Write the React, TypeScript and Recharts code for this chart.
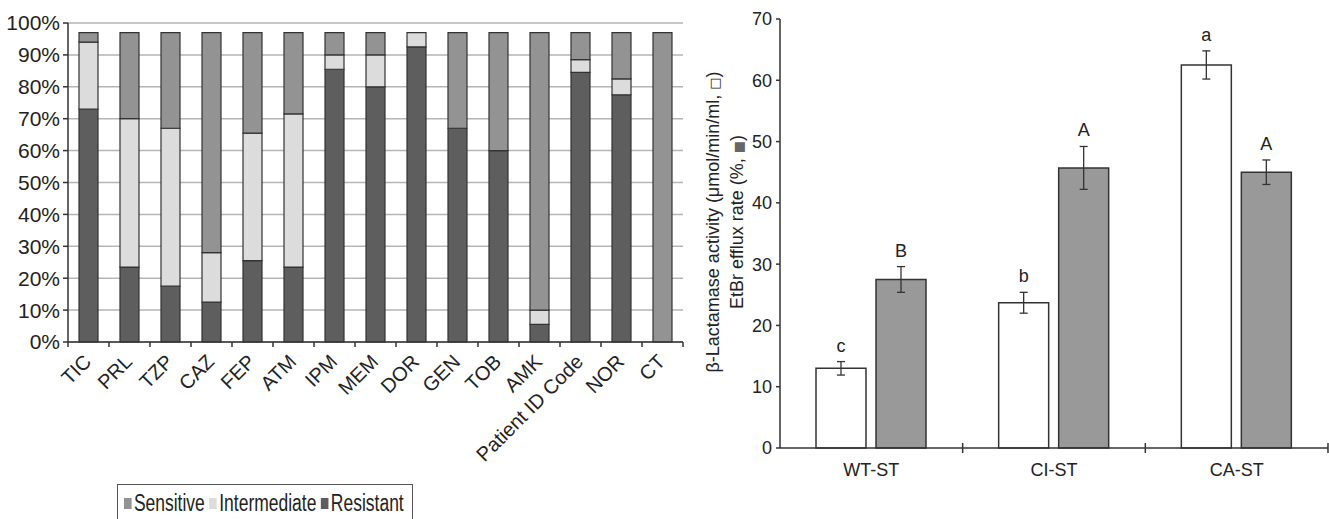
import { BarChart, Bar, XAxis, YAxis, CartesianGrid, Legend, ErrorBar, LabelList } from 'recharts'

// left panel: susceptibility profile per antibiotic (% of isolates)
const antibiotics = ['TIC', 'PRL', 'TZP', 'CAZ', 'FEP', 'ATM', 'IPM', 'MEM', 'DOR', 'GEN', 'TOB', 'AMK', 'Patient ID Code', 'NOR', 'CT']
const resistant = [73, 23.5, 17.5, 12.5, 25.5, 23.5, 85.5, 80, 92.5, 67, 60, 5.5, 84.5, 77.5, 0]
const intermediate = [21, 46.5, 49.5, 15.5, 40, 48, 4.5, 10, 4.5, 0, 0, 4.5, 4, 5, 0]
const sensitive = [3, 27, 30, 69, 31.5, 25.5, 7, 7, 0, 30, 37, 87, 8.5, 14.5, 97]
const percentTicks = [0, 10, 20, 30, 40, 50, 60, 70, 80, 90, 100]

// right panel: beta-lactamase activity and EtBr efflux per strain
const strains = ['WT-ST', 'CI-ST', 'CA-ST']
const lactamase = [13.0, 23.7, 62.5]
const lactamaseErr = [1.1, 1.7, 2.3]
const lactamaseLetters = ['c', 'b', 'a']
const efflux = [27.5, 45.7, 45.0]
const effluxErr = [2.1, 3.5, 2.0]
const effluxLetters = ['B', 'A', 'A']
const activityTicks = [0, 10, 20, 30, 40, 50, 60, 70]

const FONT = '"Liberation Sans", Arial, Helvetica, sans-serif'
const SYMBOL_FONT = '"DejaVu Sans", sans-serif'
const INK = '#222'
const SENS = '#939393'
const INTER = '#dcdcdc'
const RES = '#5e5e5e'

const LEFT_W = 700
const LEFT_MARGIN = { top: 23, right: 17, left: 0, bottom: 0 }
const LEFT_Y_W = 68

const resistanceData = antibiotics.map((name, i) => ({
  name,
  resistant: resistant[i],
  intermediate: intermediate[i],
  sensitive: sensitive[i],
}))

const activityData = strains.map((strain, i) => ({
  strain,
  lactamase: lactamase[i],
  lactamaseErr: lactamaseErr[i],
  efflux: efflux[i],
  effluxErr: effluxErr[i],
}))

const legendItems = [
  { label: 'Sensitive', color: SENS },
  { label: 'Intermediate', color: INTER },
  { label: 'Resistant', color: RES },
]

function AntibioticTick(props: any) {
  const { x, y, payload, index } = props
  const fallback = (LEFT_W - LEFT_MARGIN.right - LEFT_Y_W) / antibiotics.length / 2
  const half = payload?.offset || fallback
  const tx = x - 1
  const ty = y + 16
  return (
    <g>
      <line x1={x + half} y1={y} x2={x + half} y2={y + 5} stroke="#333" strokeWidth={1.5} />
      {index === 0 && <line x1={x - half} y1={y} x2={x - half} y2={y + 5} stroke="#333" strokeWidth={1.5} />}
      <text
        x={tx}
        y={ty}
        dy="0.35em"
        textAnchor="end"
        transform={`rotate(-45, ${tx}, ${ty})`}
        fontSize={20}
        fill={INK}
        fontFamily={FONT}
      >
        {payload.value}
      </text>
    </g>
  )
}

// the printed legend uses a condensed face, so squeeze a larger font horizontally
function ResistanceLegend() {
  return (
    <div
      style={{
        boxSizing: 'border-box',
        width: 296,
        height: 42,
        border: '1.5px solid #555',
        background: '#fff',
        overflow: 'hidden',
        whiteSpace: 'nowrap',
        fontFamily: FONT,
        fontSize: 23,
        lineHeight: '26px',
        color: INK,
        padding: '5px 0 0 6px',
        textAlign: 'left',
      }}
    >
      <div style={{ display: 'inline-block', transform: 'scaleX(0.76)', transformOrigin: 'left center' }}>
        {legendItems.map((it) => (
          <span key={it.label} style={{ marginRight: 6 }}>
            <span
              style={{
                display: 'inline-block',
                width: 10,
                height: 11,
                background: it.color,
                marginRight: 3,
                verticalAlign: 'middle',
                position: 'relative',
                top: -1,
              }}
            />
            {it.label}
          </span>
        ))}
      </div>
    </div>
  )
}

function StrainTick(props: any) {
  const { x, y, payload } = props
  const half = payload?.offset || 91.3
  return (
    <g>
      <line x1={x + half} y1={y - 5} x2={x + half} y2={y + 5} stroke="#333" strokeWidth={1.5} />
      <text x={x} y={y + 22} dy="0.35em" textAnchor="middle" fontSize={18} fill={INK} fontFamily={FONT}>
        {payload.value}
      </text>
    </g>
  )
}

function ActivityAxisLabel(props: any) {
  const vb = props.viewBox ?? { x: 0 }
  const cy = 222
  const x1 = vb.x + 13
  const x2 = vb.x + 37
  return (
    <g fontFamily={FONT} fontSize={18} fill={INK}>
      <text x={x1} y={cy} dy="0.35em" textAnchor="middle" transform={`rotate(-90, ${x1}, ${cy})`}>
        β-Lactamase activity (μmol/min/ml, <tspan fontFamily={SYMBOL_FONT} fontSize={13}>□</tspan>)
      </text>
      <text x={x2} y={cy} dy="0.35em" textAnchor="middle" transform={`rotate(-90, ${x2}, ${cy})`}>
        EtBr efflux rate (%, <tspan fontFamily={SYMBOL_FONT} fontSize={13} fill="#666">■</tspan>)
      </text>
    </g>
  )
}

const letterLabel = (letters: string[], values: number[], errs: number[]) => (p: any) => {
  const vb = p.viewBox ?? p
  const x = vb.x ?? p.x
  const y = vb.y ?? p.y
  const width = vb.width ?? p.width
  const height = vb.height ?? p.height
  const i = typeof p.index === 'number' ? p.index : values.indexOf(p.value)
  if (i < 0 || i >= values.length) return null
  const top = Math.min(y, y + height)
  const ppu = Math.abs(height) / values[i]
  const errTop = top - errs[i] * ppu
  return (
    <text x={x + width / 2} y={errTop - 10} textAnchor="middle" fontSize={18} fill={INK} fontFamily={FONT}>
      {letters[i]}
    </text>
  )
}

export default function App() {
  return (
    <div style={{ position: 'absolute', left: 0, top: 0, width: 1329, height: 519, overflow: 'hidden', background: '#fff' }}>
      <div style={{ position: 'absolute', left: 0, top: 0 }}>
        <BarChart width={LEFT_W} height={519} data={resistanceData} margin={LEFT_MARGIN} barSize={19}>
          <CartesianGrid vertical={false} stroke="#b5b5b5" strokeWidth={1.5} />
          <XAxis
            dataKey="name"
            interval={0}
            height={177}
            tickSize={0}
            tickMargin={0}
            tickLine={false}
            tick={<AntibioticTick />}
            axisLine={{ stroke: '#333', strokeWidth: 1.5 }}
          />
          <YAxis
            width={LEFT_Y_W}
            domain={[0, 100]}
            ticks={percentTicks}
            tickFormatter={(v: number) => `${v}%`}
            tickSize={5}
            tickMargin={3}
            tickLine={{ stroke: '#333', strokeWidth: 1.5 }}
            axisLine={{ stroke: '#333', strokeWidth: 1.5 }}
            tick={{ fill: INK, fontSize: 21, fontFamily: FONT }}
          />
          <Bar dataKey="resistant" stackId="s" fill={RES} stroke="#333" strokeWidth={1.2} isAnimationActive={false} />
          <Bar dataKey="intermediate" stackId="s" fill={INTER} stroke="#333" strokeWidth={1.2} isAnimationActive={false} />
          <Bar dataKey="sensitive" stackId="s" fill={SENS} stroke="#333" strokeWidth={1.2} isAnimationActive={false} />
          <Legend
            layout="horizontal"
            verticalAlign="middle"
            align="center"
            content={<ResistanceLegend />}
            wrapperStyle={{ position: 'absolute', left: 117, top: 484, width: 296, height: 42 }}
          />
        </BarChart>
      </div>

      <div style={{ position: 'absolute', left: 700, top: 0 }}>
        <BarChart width={629} height={519} data={activityData} margin={{ top: 19, right: 1, left: 0, bottom: 0 }} barSize={50} barGap={10}>
          <XAxis
            dataKey="strain"
            interval={0}
            height={71}
            tickSize={0}
            tickMargin={0}
            tickLine={false}
            tick={<StrainTick />}
            axisLine={{ stroke: '#333', strokeWidth: 1.5 }}
          />
          <XAxis xAxisId="top" orientation="top" height={0} tick={false} tickLine={false} axisLine={{ stroke: '#444', strokeWidth: 1.5 }} />
          <YAxis
            width={80}
            domain={[0, 70]}
            ticks={activityTicks}
            tickSize={4}
            tickMargin={4}
            tickLine={{ stroke: '#333', strokeWidth: 1.5 }}
            axisLine={{ stroke: '#333', strokeWidth: 1.5 }}
            tick={{ fill: INK, fontSize: 18, fontFamily: FONT }}
            label={{ content: (p: any) => <ActivityAxisLabel {...p} /> }}
          />
          <YAxis yAxisId="right" orientation="right" width={0} tick={false} tickLine={false} axisLine={{ stroke: '#444', strokeWidth: 1.5 }} />
          <Bar dataKey="lactamase" fill="#fff" stroke="#333" strokeWidth={1.5} isAnimationActive={false}>
            <ErrorBar dataKey="lactamaseErr" width={4} stroke="#333" strokeWidth={1.3} direction="y" isAnimationActive={false} />
            <LabelList dataKey="lactamase" content={letterLabel(lactamaseLetters, lactamase, lactamaseErr)} />
          </Bar>
          <Bar dataKey="efflux" fill="#999" stroke="#333" strokeWidth={1.5} isAnimationActive={false}>
            <ErrorBar dataKey="effluxErr" width={4} stroke="#333" strokeWidth={1.3} direction="y" isAnimationActive={false} />
            <LabelList dataKey="efflux" content={letterLabel(effluxLetters, efflux, effluxErr)} />
          </Bar>
        </BarChart>
      </div>
    </div>
  )
}
